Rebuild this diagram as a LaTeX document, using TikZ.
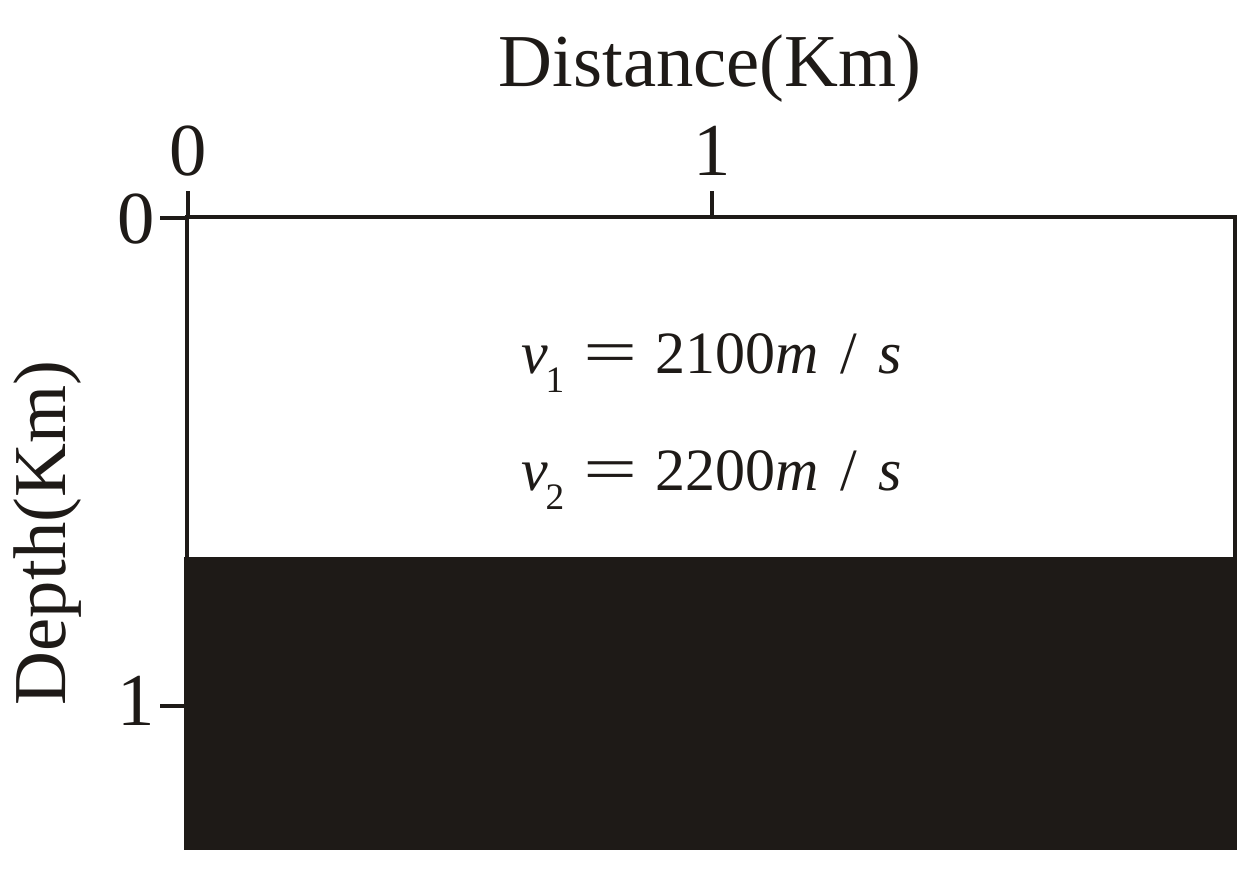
\documentclass[tikz,border=0pt]{standalone}
\usepackage{fontspec}
\setmainfont{Liberation Serif}
\definecolor{ink}{RGB}{30,26,23}
\newcommand{\velline}[2]{\textit{v}\kern-0.04em\raisebox{-0.33em}{\fontsize{28}{30}\selectfont #1}\hspace{0.32em}\scalebox{1.6}[1.05]{=}\hspace{0.3em}#2\textit{m}\hspace{0.36em}/\hspace{0.36em}\textit{s}}
\begin{document}
\begin{tikzpicture}[x=0.75pt,y=-0.75pt,
  frame/.style={draw=ink,line width=3.7pt},
  tick/.style={draw=ink,line width=3.4pt},
  big/.style={text=ink,inner sep=0pt,font=\fontsize{56}{60}\selectfont},
  eq/.style={text=ink,inner sep=0pt,font=\fontsize{45}{50}\selectfont}]
\useasboundingbox (0,0) rectangle (1252,886);
% lower layer
\fill[ink] (184,557) rectangle (1237,850);
% frame
\draw[frame] (187,557) -- (187,217) -- (1235,217) -- (1235,557);
% ticks
\draw[tick] (188,191) -- (188,217);
\draw[tick] (712,191) -- (712,217);
\draw[tick] (160,218) -- (187,218);
\draw[tick] (160,706) -- (187,706);
% tick labels
\node[big,anchor=base] (x0) at (188,175) {0};
\node[big,anchor=base] (x1) at (712,175) {1};
\node[big,anchor=base east] (y0) at (155,243) {0};
\node[big,anchor=base east] (y1) at (155,725) {1};
% axis titles
\node[big,anchor=base] (xt) at (710,86) {Distance(Km)};
\node[big,anchor=base,rotate=90] (yt) at (65,533) {Depth(Km)};
% velocities
\node[eq,anchor=base west] (v1) at (521,373) {\velline{1}{2100}};
\node[eq,anchor=base west] (v2) at (521,490) {\velline{2}{2200}};
\end{tikzpicture}
\end{document}
